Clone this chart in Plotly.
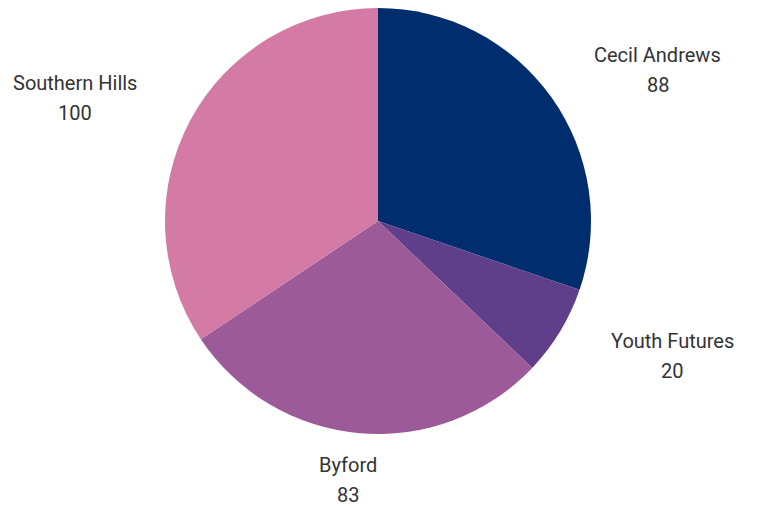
import numpy as np
import plotly.graph_objects as go

schools = ['Cecil Andrews', 'Youth Futures', 'Byford', 'Southern Hills']
counts = [88, 20, 83, 100]
colours = ['#002D6E', '#5F3F8A', '#9C5B98', '#D37BA5']

# the page body has an 8px margin, so the figure starts at (8, 8)
OFF = 8
W, H = 759 - OFF, 509 - OFF
cx, cy, r = 378 - OFF, 221 - OFF, 213  # pie centre and radius in pixels

fig = go.Figure()
fig.add_trace(go.Pie(
    labels=schools, values=counts, sort=False, direction='clockwise',
    rotation=0, marker=dict(colors=colours, line=dict(width=0)),
    textinfo='none', hoverinfo='label+value', showlegend=False,
    domain=dict(x=[(cx - r) / W, (cx + r) / W],
                y=[(H - cy - r) / H, (H - cy + r) / H]),
))

# labels sit on an ellipse round the pie, at each slice's middle angle
vals = np.array(counts, dtype=float)
mid = (np.cumsum(vals) - vals / 2) / vals.sum() * 2 * np.pi
rx, ry = 1.615 * r, 1.22 * r
font = dict(family='Roboto, Open Sans, sans-serif', size=20, color='#333333')
for name, val, a in zip(schools, counts, mid):
    x = (cx + rx * np.sin(a)) / W
    y = 1 - (cy - ry * np.cos(a)) / H
    fig.add_annotation(x=x, y=y, xref='paper', yref='paper', text=name,
                       showarrow=False, font=font, yshift=15,
                       xanchor='center', yanchor='middle')
    fig.add_annotation(x=x, y=y, xref='paper', yref='paper', text=str(val),
                       showarrow=False, font=font, yshift=-15,
                       xanchor='center', yanchor='middle')

fig.update_layout(width=W, height=H, margin=dict(l=0, r=0, t=0, b=0),
                  paper_bgcolor='white', plot_bgcolor='white')

fig.write_html("out.html")
